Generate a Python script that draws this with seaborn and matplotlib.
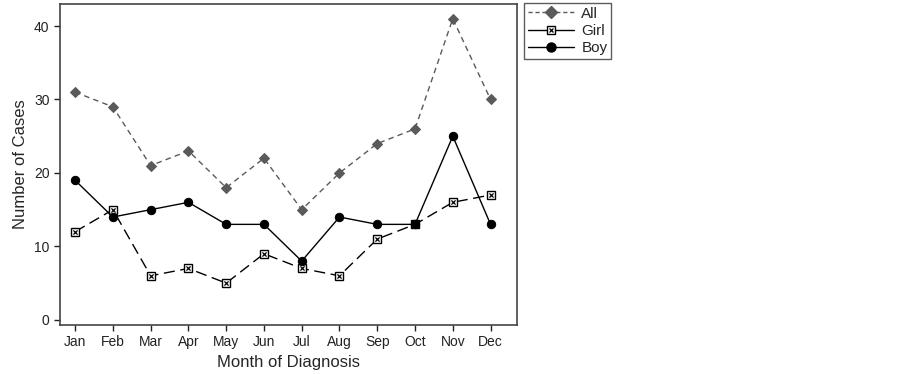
import pandas as pd
import matplotlib
matplotlib.use("Agg")
import matplotlib.pyplot as plt
import seaborn as sns
from matplotlib.lines import Line2D
from matplotlib.legend_handler import HandlerTuple

months = ["Jan", "Feb", "Mar", "Apr", "May", "Jun", "Jul", "Aug", "Sep", "Oct", "Nov", "Dec"]
all_cases = [31, 29, 21, 23, 18, 22, 15, 20, 24, 26, 41, 30]
girl_cases = [12, 15, 6, 7, 5, 9, 7, 6, 11, 13, 16, 17]
boy_cases = [19, 14, 15, 16, 13, 13, 8, 14, 13, 13, 25, 13]

df = pd.DataFrame({"idx": range(len(months)), "month": months,
                   "All": all_cases, "Girl": girl_cases, "Boy": boy_cases})

sns.set_style("white")
plt.rcParams["font.family"] = ["Liberation Sans", "DejaVu Sans"]

fig = plt.figure(figsize=(9.03, 3.74), dpi=100)
ax = fig.add_axes([60 / 903, 1 - 325 / 374, 457 / 903, 321 / 374])

grey = "#5a5a5a"
sns.lineplot(data=df, x="idx", y="All", ax=ax, color=grey, lw=1.0,
             linestyle=(0, (4, 3)), marker="D", markersize=5.5,
             markerfacecolor=grey, markeredgecolor=grey)
sns.lineplot(data=df, x="idx", y="Girl", ax=ax, color="black", lw=1.0,
             linestyle=(0, (8, 4)), marker="s", markersize=5.5,
             markerfacecolor="white", markeredgecolor="black", markeredgewidth=1.0)
sns.scatterplot(data=df, x="idx", y="Girl", ax=ax, marker="x", s=9,
                color="black", linewidth=0.9, zorder=5)
sns.lineplot(data=df, x="idx", y="Boy", ax=ax, color="black", lw=1.0,
             marker="o", markersize=6, markerfacecolor="black", markeredgecolor="black",
             zorder=6)

ax.set_xlim(-0.4, 11.7)
ax.set_ylim(-0.7, 43)
ax.set_xticks(range(len(months)))
ax.set_xticklabels(months)
ax.set_yticks([0, 10, 20, 30, 40])
ax.tick_params(axis="both", direction="out", length=4, width=1, labelsize=10,
               bottom=True, left=True, colors="#222222")
for s in ax.spines.values():
    s.set_color("#444444")
    s.set_linewidth(1.2)
ax.set_xlabel("Month of Diagnosis", fontsize=12)
ax.set_ylabel("Number of Cases", fontsize=12)

h_all = Line2D([], [], color=grey, lw=1.0, linestyle=(0, (3, 2)), marker="D",
               markersize=6, markerfacecolor=grey, markeredgecolor=grey)
h_girl_sq = Line2D([], [], color="black", lw=1.0, marker="s", markersize=6,
                   markerfacecolor="white", markeredgecolor="black")
h_girl_x = Line2D([], [], color="black", lw=0, marker="x", markersize=3,
                  markeredgewidth=0.9)
h_boy = Line2D([], [], color="black", lw=1.0, marker="o", markersize=6.5)
fig.legend([h_all, (h_girl_sq, h_girl_x), h_boy], ["All", "Girl", "Boy"],
           handler_map={tuple: HandlerTuple(ndivide=1, pad=0)},
           loc="upper left", bbox_to_anchor=(524 / 903, 1 - 3 / 374),
           fontsize=11, frameon=True, fancybox=False, edgecolor="#333333",
           handlelength=3.0, borderpad=0.25, labelspacing=0.2, handletextpad=0.5,
           borderaxespad=0)

fig.savefig("out.png", dpi=100)
